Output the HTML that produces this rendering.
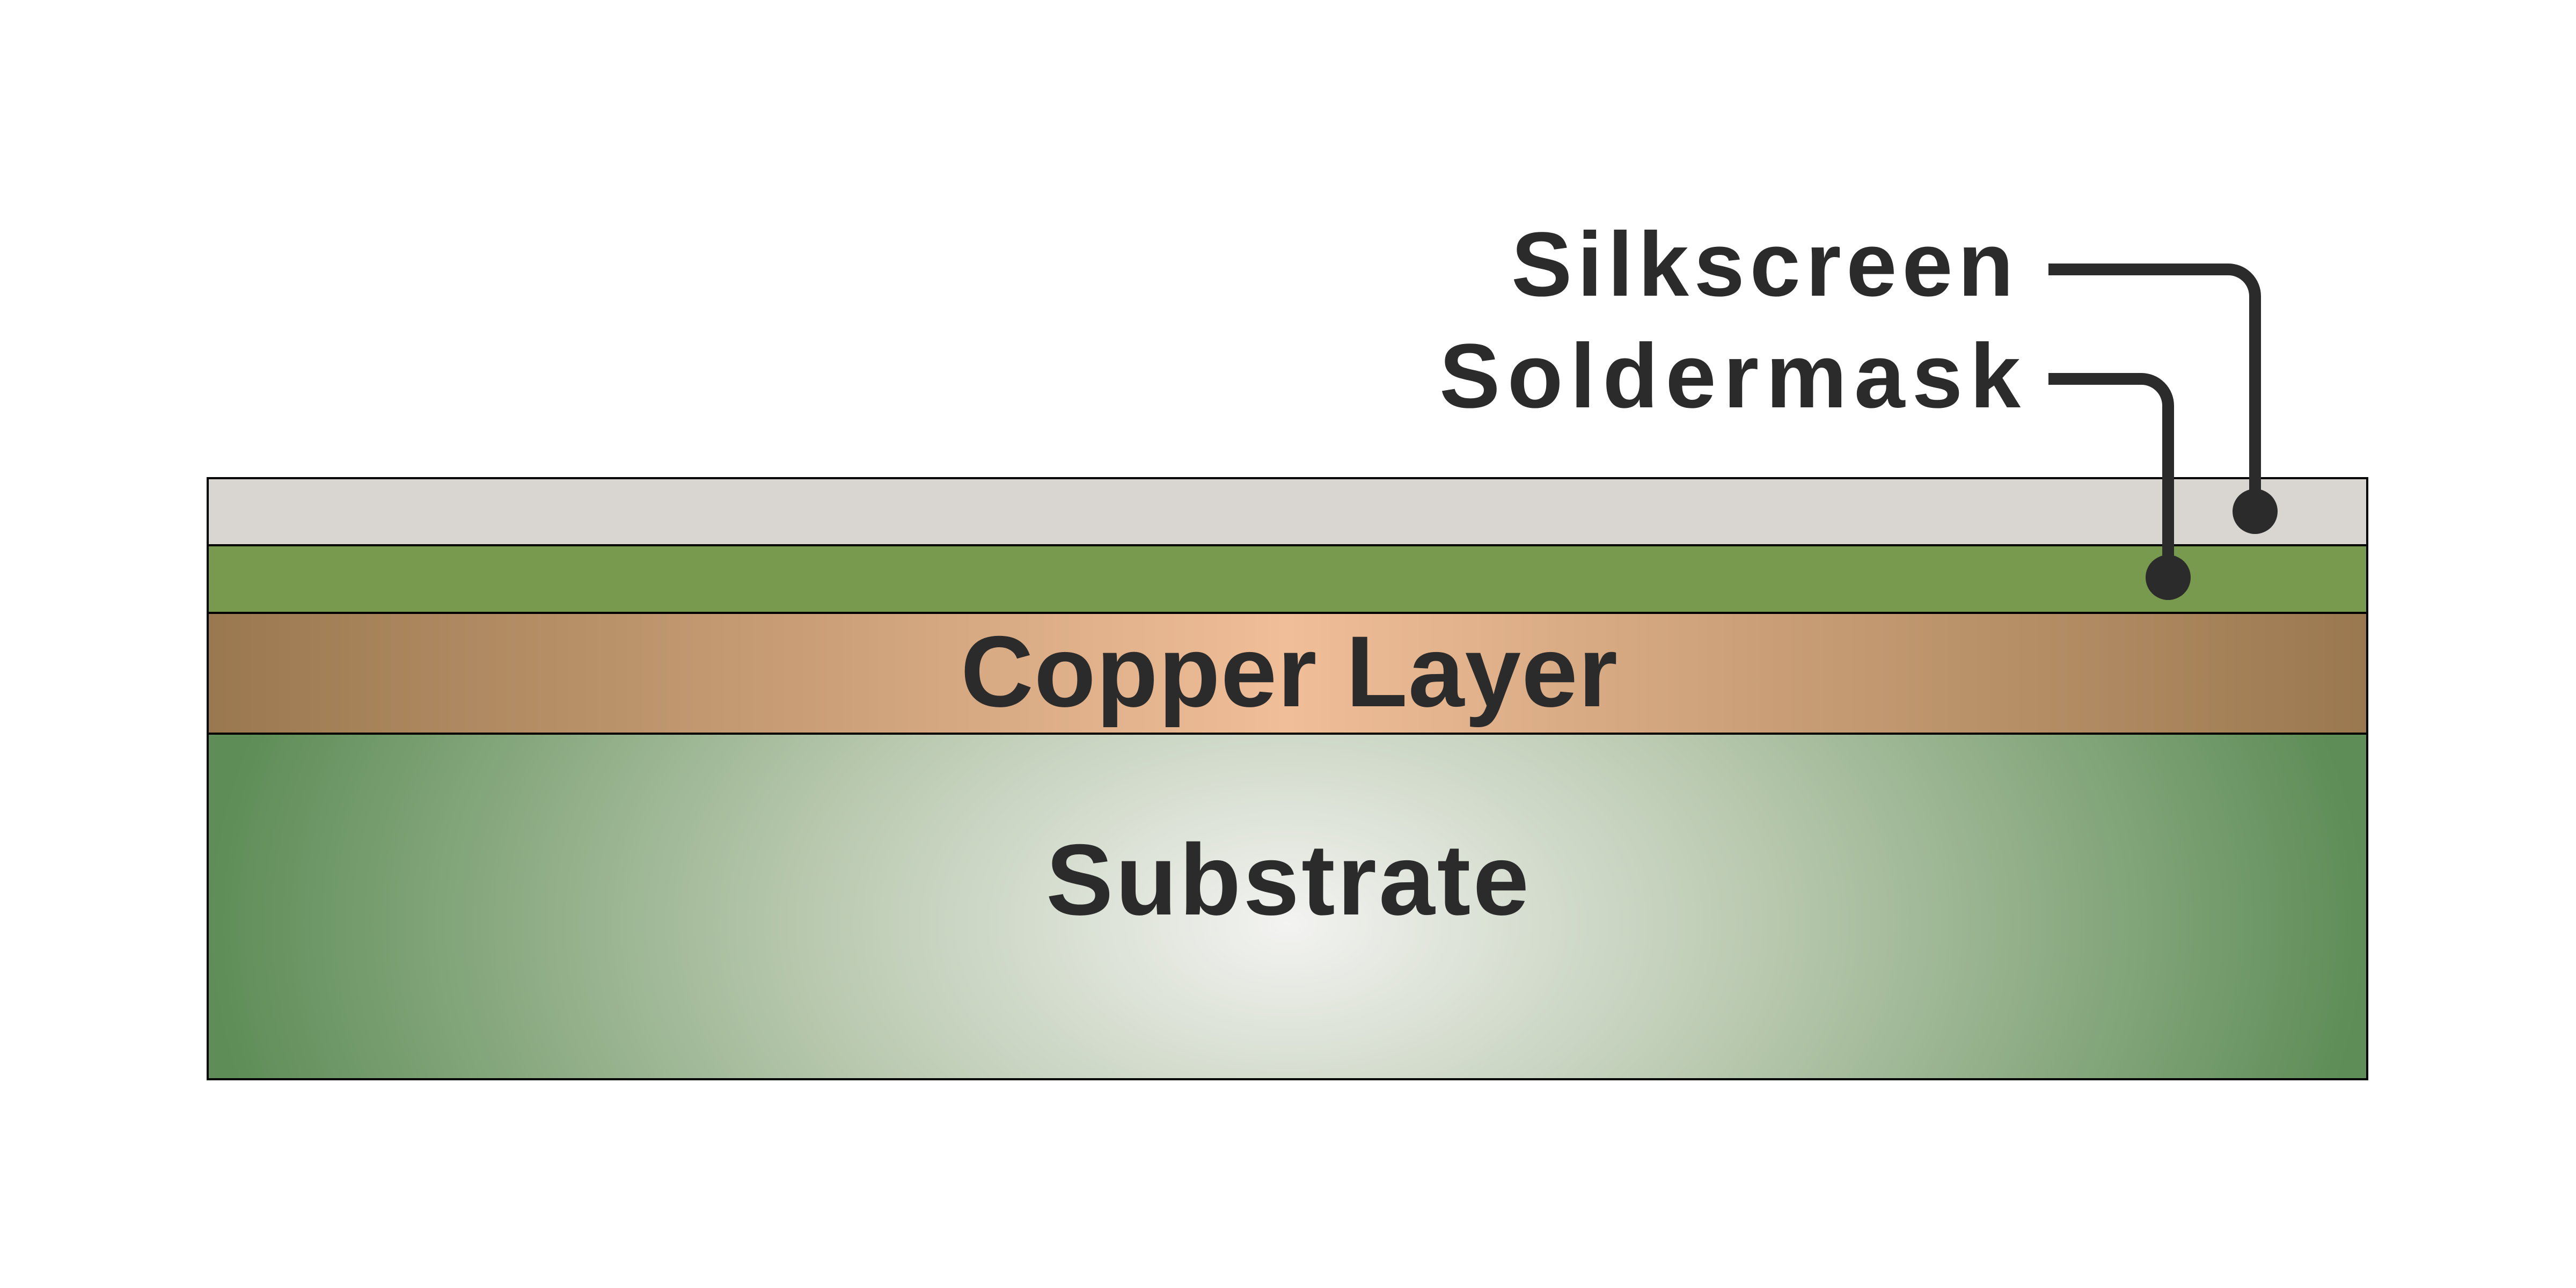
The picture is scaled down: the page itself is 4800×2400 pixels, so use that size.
<!DOCTYPE html>
<html><head><meta charset="utf-8"><style>html,body{margin:0;padding:0;background:#fff}svg{display:block}</style></head>
<body>
<svg width="4800" height="2400" viewBox="0 0 4800 2400" xmlns="http://www.w3.org/2000/svg">
<defs>
<linearGradient id="cu" x1="0" x2="1" y1="0" y2="0">
<stop offset="0" stop-color="#9a784f"/><stop offset="0.5" stop-color="#f0be98"/><stop offset="1" stop-color="#9a784f"/>
</linearGradient>
<radialGradient id="sub" cx="0.5" cy="0.55" r="0.5" gradientUnits="objectBoundingBox" gradientTransform="translate(0.5 0.55) scale(1 4) translate(-0.5 -0.55)">
<stop offset="0" stop-color="#f3f3f1"/><stop offset="0.45" stop-color="#b8c8ae"/><stop offset="1" stop-color="#5e8d57"/>
</radialGradient>
</defs>
<rect width="4800" height="2400" fill="#fff"/>
<rect x="387" y="1367" width="4024" height="644" fill="url(#sub)" stroke="#000" stroke-width="4"/>
<rect x="387" y="1142" width="4024" height="225" fill="url(#cu)" stroke="#000" stroke-width="4"/>
<rect x="387" y="1016" width="4024" height="126" fill="#779a4e" stroke="#000" stroke-width="4"/>
<rect x="387" y="891" width="4024" height="125" fill="#d9d6d1" stroke="#000" stroke-width="4"/>
<g fill="none" stroke="#2b2b2b" stroke-width="22">
<path d="M3817 502 H4152 A50 50 0 0 1 4202 552 V950"/>
<path d="M3817 706 H3990 A50 50 0 0 1 4040 756 V1073"/>
</g>
<circle cx="4202" cy="953" r="42" fill="#2b2b2b"/>
<circle cx="4040" cy="1076" r="42" fill="#2b2b2b"/>
<g font-family="Liberation Sans, sans-serif" font-weight="bold" fill="#2b2b2b">
<text x="2816" y="551" font-size="170" textLength="936" lengthAdjust="spacing">Silkscreen</text>
<text x="2682" y="759" font-size="170" textLength="1083" lengthAdjust="spacing">Soldermask</text>
<text x="1790" y="1316" font-size="188" textLength="1224" lengthAdjust="spacing">Copper Layer</text>
<text x="1949" y="1704" font-size="188" textLength="900" lengthAdjust="spacing">Substrate</text>
</g>
</svg>
</body></html>
